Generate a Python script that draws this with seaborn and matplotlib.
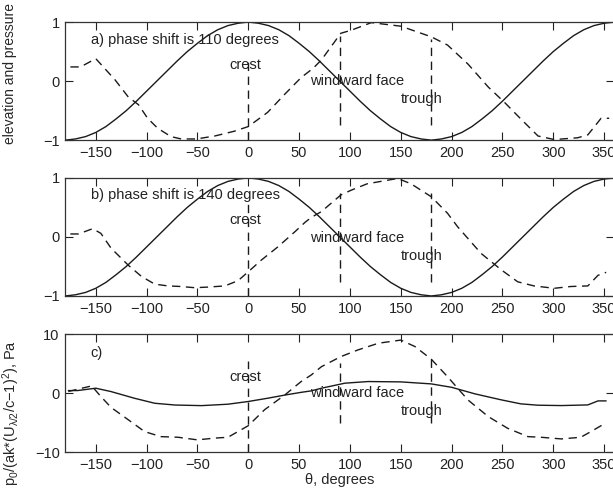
import pandas as pd
import matplotlib
matplotlib.use("Agg")
import matplotlib.pyplot as plt
import seaborn as sns

# elevation (solid) is the same in panels a and b
theta_elev = [-180, -170, -160, -150, -140, -130, -120, -110, -100, -90, -80, -70,
              -60, -50, -40, -30, -20, -10, 0, 10, 20, 30, 40, 50, 60, 70, 80, 90,
              100, 110, 120, 130, 140, 150, 160, 170, 180, 190, 200, 210, 220, 230,
              240, 250, 260, 270, 280, 290, 300, 310, 320, 330, 340, 350, 360]
elevation = [-1.0, -0.98, -0.94, -0.87, -0.77, -0.64, -0.5, -0.34, -0.17, 0.0, 0.17, 0.34,
             0.5, 0.64, 0.77, 0.87, 0.94, 0.98, 1.0, 0.98, 0.94, 0.87, 0.77, 0.64, 0.5, 0.34, 0.17, 0.0,
             -0.17, -0.34, -0.5, -0.64, -0.77, -0.87, -0.94, -0.98, -1.0, -0.98, -0.94, -0.87, -0.77, -0.64,
             -0.5, -0.34, -0.17, 0.0, 0.17, 0.34, 0.5, 0.64, 0.77, 0.87, 0.94, 0.98, 1.0]

# panel a pressure (dashed)
theta_pa = [-175, -165, -150, -131, -118, -108, -99, -89, -76, -66, -51, -33, -14, 0,
            19, 36, 52, 64, 72, 91, 101, 121, 150, 180, 196, 216, 236, 252, 268, 285,
            301, 324, 334, 341, 347, 355]
press_a = [0.24, 0.24, 0.38, 0.02, -0.27, -0.40, -0.63, -0.80, -0.94, -0.98, -0.98, -0.93, -0.85, -0.77,
           -0.53, -0.22, 0.06, 0.22, 0.36, 0.81, 0.86, 0.99, 0.93, 0.75, 0.61, 0.29, -0.10, -0.36, -0.64, -0.93,
           -0.99, -0.96, -0.91, -0.76, -0.63, -0.63]

# panel b pressure (dashed)
theta_pb = [-175, -167, -153, -145, -135, -118, -105, -92, -79, -66, -53, -40, -23, -10, 0,
            13, 29, 46, 56, 62, 72, 91, 101, 117, 147, 160, 180, 196, 206, 229, 249, 265,
            281, 301, 317, 334, 344, 352]
press_b = [0.05, 0.05, 0.14, 0.06, -0.19, -0.48, -0.67, -0.80, -0.83, -0.84, -0.86, -0.85, -0.83, -0.74, -0.59,
           -0.39, -0.17, 0.09, 0.25, 0.33, 0.43, 0.71, 0.79, 0.90, 0.99, 0.90, 0.68, 0.40, 0.17, -0.28, -0.56, -0.76,
           -0.83, -0.87, -0.84, -0.83, -0.65, -0.60]

# panel c normalised elevation-like (solid) and pressure (dashed)
theta_cs = [-177, -168, -150, -135, -112, -92, -72, -46, -20, 0, 19, 37, 52, 62, 72, 95,
            118, 150, 180, 200, 223, 249, 268, 285, 308, 334, 344, 352]
solid_c = [0.45, 0.45, 0.85, 0.28, -0.85, -1.7, -2.0, -2.1, -1.86, -1.4, -0.85, -0.28, 0.15, 0.4, 0.85, 1.7,
           1.98, 1.92, 1.58, 1.0, -0.11, -1.13, -1.8, -2.03, -2.09, -1.98, -1.3, -1.3]
theta_cd = [-177, -154, -145, -135, -118, -102, -86, -69, -50, -33, -20, 0, 16, 36, 52, 62, 72,
            91, 108, 128, 150, 164, 180, 196, 216, 236, 255, 275, 288, 308, 327, 337, 347, 352]
dashed_c = [0.3, 1.24, -0.56, -2.4, -4.5, -6.5, -7.35, -7.46, -7.9, -7.6, -7.46, -5.5, -2.8, -0.28, 1.98, 3.1, 4.5,
            6.2, 7.34, 8.47, 9.0, 7.9, 5.76, 2.8, -1.13, -3.95, -5.93, -7.35, -7.46, -7.74, -7.46, -6.5, -5.5, -5.5]

# markers: crest, windward face, trough
marker_x = [0, 90, 180]
marker_lo = {"a": [-1.0, -0.75, -0.75], "b": [-1.0, -0.76, -0.76], "c": [-10, -5.0, -5.0]}
marker_hi = {"a": [0.38, 0.76, 0.72], "b": [0.59, 0.74, 0.74], "c": [5.5, 5.1, 6.0]}
marker_names = ["crest", "windward face", "trough"]
marker_text_x = [-19, 61, 150]
marker_text_y = {"a": [0.28, 0.0, -0.3], "b": [0.28, -0.01, -0.32], "c": [2.8, 0.05, -3.0]}

titles = {"a": "a) phase shift is 110 degrees", "b": "b) phase shift is 140 degrees", "c": "c)"}
title_y = {"a": 0.7, "b": 0.71, "c": 6.8}

sns.set_style("ticks")
plt.rcParams["font.family"] = ["Liberation Sans", "DejaVu Sans"]
plt.rcParams["mathtext.default"] = "regular"
plt.rcParams["font.size"] = 10.5

fig = plt.figure(figsize=(6.13, 4.9), dpi=100)
left, width = 0.1065, 0.8956
ax_a = fig.add_axes([left, 0.714, width, 0.241])
ax_b = fig.add_axes([left, 0.396, width, 0.241])
ax_c = fig.add_axes([left, 0.077, width, 0.241])

ink = "#1a1a1a"
dash = (0, (6, 4))

panels = {
    "a": (ax_a, pd.DataFrame({"theta": theta_elev, "v": elevation}),
          pd.DataFrame({"theta": theta_pa, "v": press_a})),
    "b": (ax_b, pd.DataFrame({"theta": theta_elev, "v": elevation}),
          pd.DataFrame({"theta": theta_pb, "v": press_b})),
    "c": (ax_c, pd.DataFrame({"theta": theta_cs, "v": solid_c}),
          pd.DataFrame({"theta": theta_cd, "v": dashed_c})),
}

for key, (ax, solid, dashed) in panels.items():
    sns.lineplot(data=solid, x="theta", y="v", ax=ax, color=ink, lw=1.0,
                 estimator=None, sort=False)
    sns.lineplot(data=dashed, x="theta", y="v", ax=ax, color=ink, lw=1.0,
                 linestyle=dash, estimator=None, sort=False)
    ax.vlines(marker_x, marker_lo[key], marker_hi[key], colors=ink, lw=1.0, linestyles=dash)
    for name, tx, ty in zip(marker_names, marker_text_x, marker_text_y[key]):
        ax.text(tx, ty, name, fontsize=10.5, va="center", ha="left", color="#222222")
    ax.text(-155, title_y[key], titles[key], fontsize=10.5, va="center", ha="left", color="#222222")

    ax.set_xlim(-180, 360)
    ax.set_xticks(range(-150, 351, 50))
    ax.set_xticklabels([str(t).replace("-", "\u2212") for t in range(-150, 351, 50)])
    ax.tick_params(direction="in", length=6, width=0.8, top=True, right=True,
                   labelsize=10.5, colors="#222222", pad=4)
    for s in ax.spines.values():
        s.set_linewidth(0.9)
        s.set_color("#333333")
    ax.set_xlabel("")
    ax.set_ylabel("")

for ax in (ax_a, ax_b):
    ax.set_ylim(-1, 1)
    ax.set_yticks([-1, 0, 1])
    ax.set_yticklabels(["\u22121", "0", "1"])
ax_c.set_ylim(-10, 10)
ax_c.set_yticks([-10, 0, 10])
ax_c.set_yticklabels(["\u221210", "0", "10"])

ax_a.set_ylabel("elevation and pressure", fontsize=10)
ax_a.yaxis.set_label_coords(-0.088, 0.564)
ax_c.set_ylabel("p$_0$/(ak*(U$_{\\lambda/2}$/c\u22121)$^2$), Pa", fontsize=10.5)
ax_c.yaxis.set_label_coords(-0.078, 0.33)
ax_c.set_xlabel("\u03b8, degrees", fontsize=10.5, labelpad=1)

fig.savefig("out.png", dpi=100)
